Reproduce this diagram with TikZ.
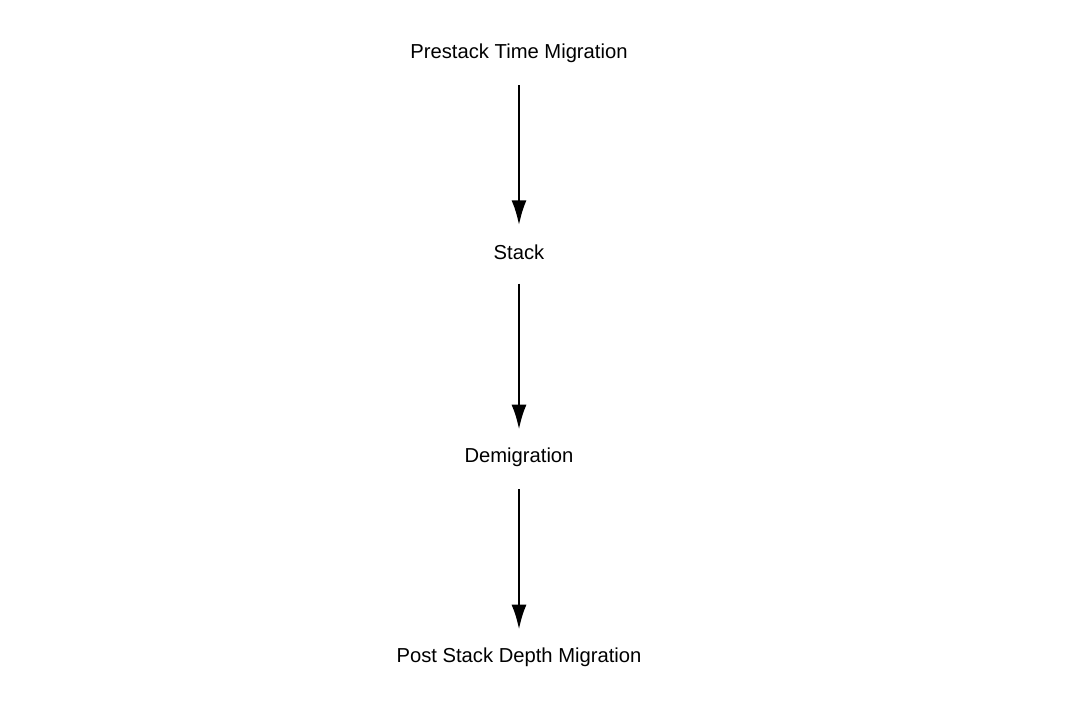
\documentclass[tikz,border=0pt]{standalone}
\usepackage{fontspec}
\setmainfont{Liberation Sans}
\usetikzlibrary{arrows.meta,positioning}
\begin{document}
\begin{tikzpicture}[font=\fontsize{11.5}{13}\selectfont,
  stage/.style={inner sep=0pt,minimum height=0.35cm},
  flow/.style={-{Latex[length=5mm,width=3mm]},line width=1.6pt,shorten <=0.45cm,shorten >=0.35cm}]
\useasboundingbox (0,0) rectangle (21.8,-14.4);
\node[stage] (ptm) at (10.38,-1.06) {Prestack Time Migration};
\node[stage] (stk) at (10.38,-5.04) {Stack};
\node[stage] (dmg) at (10.38,-9.14) {Demigration};
\node[stage] (psdm) at (10.38,-13.14) {Post Stack Depth Migration};
\draw[flow] (ptm) -- (stk);
\draw[flow] (stk) -- (dmg);
\draw[flow] (dmg) -- (psdm);
\end{tikzpicture}
\end{document}
